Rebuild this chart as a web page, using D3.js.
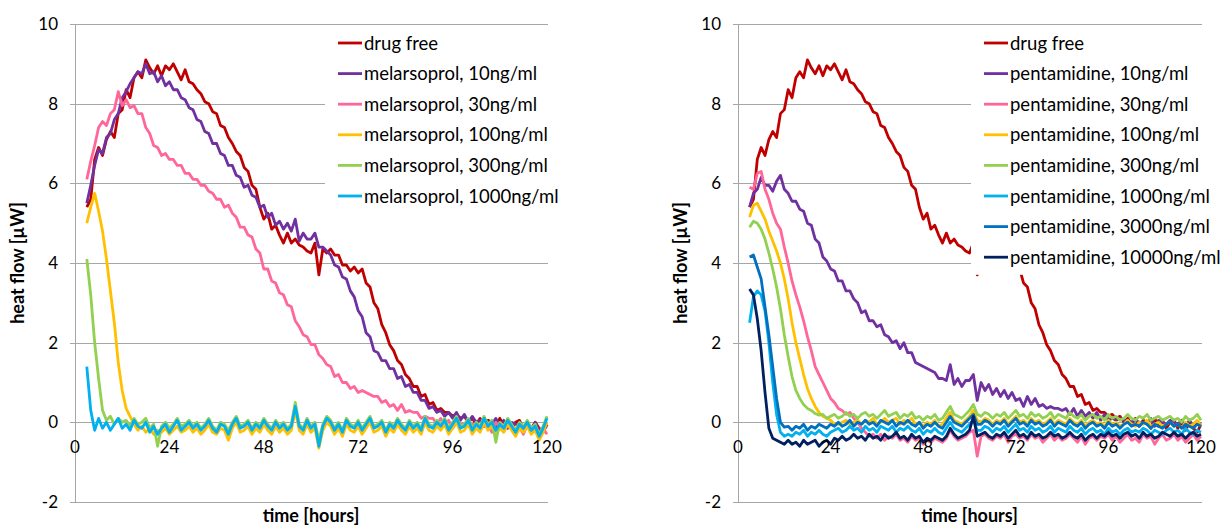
<!DOCTYPE html>
<html>
<head>
<meta charset="utf-8">
<script src="https://cdn.jsdelivr.net/npm/d3@7"></script>
<style>
  body { margin: 0; background: #fff; }
  text { font-family: Lato, "Open Sans", sans-serif; fill: #000; }
</style>
</head>
<body>
<div id="chart"></div>
<script>
// sampling grid: one reading per hour, from hour 3 to hour 120
const hours = d3.range(3, 121);

const xTicks = [0, 24, 48, 72, 96, 120];
const yTicks = [-2, 0, 2, 4, 6, 8, 10];

// drug free control (same curve in both panels)
const drugFree = [
  5.4, 5.6, 6.6, 6.9, 6.7, 7.1, 7.3, 7.15, 7.75, 7.85,
  8.35, 8.15, 8.65, 8.8, 8.65, 9.1, 8.9, 8.75, 8.95, 8.7,
  8.95, 8.85, 9.0, 8.8, 8.6, 8.85, 8.55, 8.5, 8.35, 8.25,
  8.05, 8.0, 7.8, 7.75, 7.45, 7.4, 7.15, 7.0, 6.8, 6.7,
  6.4, 6.3, 5.95, 5.85, 5.4, 5.1, 5.25, 4.85, 4.95, 4.7,
  4.5, 4.75, 4.5, 4.6, 4.45, 4.4, 4.3, 4.25, 4.5, 3.7,
  4.35, 4.25, 4.35, 4.2, 4.2, 3.95, 3.95, 3.8, 3.9, 3.75,
  3.85, 3.5, 3.4, 3.0, 2.85, 2.45, 2.25, 1.95, 1.8, 1.55,
  1.45, 1.2, 1.1, 0.9, 0.9, 0.65, 0.7, 0.45, 0.5, 0.3,
  0.35, 0.25, 0.25, 0.15, 0.2, 0.1, 0.15, 0.0, 0.1, -0.05,
  0.1, -0.1, 0.05, 0.0, -0.15, 0.1, -0.1, 0.05, -0.15, 0.0,
  0.05, -0.15, 0.0, -0.2, 0.0, -0.15, -0.25, -0.05
];

// melarsoprol
const mel10 = [
  5.5, 5.95, 6.45, 6.85, 6.75, 7.15, 7.25, 7.6, 7.75, 8.15,
  8.3, 8.5, 8.65, 8.8, 8.75, 9.0, 8.75, 8.8, 8.55, 8.7,
  8.45, 8.55, 8.35, 8.35, 8.15, 8.1, 7.9, 7.85, 7.6, 7.55,
  7.3, 7.25, 7.0, 7.0, 6.75, 6.7, 6.45, 6.45, 6.2, 6.15,
  5.9, 5.95, 5.7, 5.65, 5.4, 5.45, 5.15, 5.25, 4.95, 5.05,
  4.85, 5.0, 4.8, 5.1, 4.55, 4.75, 4.6, 4.6, 4.75, 4.4,
  4.4, 4.3, 4.2, 3.95, 3.9, 3.65, 3.6, 3.3, 3.15, 2.8,
  2.65, 2.25, 2.15, 1.8, 1.75, 1.55, 1.55, 1.35, 1.35, 1.1,
  1.15, 0.9, 0.95, 0.75, 0.75, 0.55, 0.55, 0.35, 0.4, 0.25,
  0.3, 0.15, 0.25, 0.1, 0.25, 0.05, 0.2, 0.0, 0.15, 0.0,
  0.05, 0.0, 0.0, -0.05, 0.1, -0.1, 0.05, -0.15, 0.0, -0.05,
  -0.05, -0.1, -0.1, -0.15, 0.0, -0.2, -0.15, -0.1
];
const mel30 = [
  6.1, 6.55, 6.95, 7.4, 7.55, 7.45, 7.75, 7.85, 8.3, 7.95,
  8.1, 7.9, 7.95, 7.75, 7.75, 7.4, 7.25, 6.95, 6.9, 6.7,
  6.75, 6.6, 6.6, 6.45, 6.45, 6.25, 6.25, 6.1, 6.1, 5.95,
  5.95, 5.8, 5.75, 5.6, 5.6, 5.4, 5.45, 5.25, 5.15, 4.9,
  4.9, 4.7, 4.65, 4.35, 4.25, 3.85, 3.85, 3.55, 3.5, 3.25,
  3.2, 2.95, 2.9, 2.55, 2.4, 2.2, 2.15, 1.95, 1.95, 1.7,
  1.6, 1.45, 1.4, 1.15, 1.2, 1.0, 1.0, 0.85, 0.9, 0.75,
  0.8, 0.75, 0.7, 0.65, 0.65, 0.5, 0.55, 0.4, 0.45, 0.3,
  0.45, 0.25, 0.3, 0.25, 0.25, 0.1, 0.15, 0.1, 0.1, -0.05,
  0.1, -0.1, 0.05, -0.15, 0.0, -0.05, -0.05, -0.1, -0.05, -0.05,
  -0.1, -0.1, -0.05, -0.25, 0.0, -0.15, -0.1, -0.1, -0.15, -0.15,
  -0.1, -0.3, -0.05, -0.25, -0.1, -0.35, -0.15, -0.3
];
const mel100 = [
  5.0, 5.4, 5.75, 5.3, 4.8, 4.1, 3.3, 2.5, 1.5, 0.8,
  0.35, 0.15, -0.05, -0.2, -0.1, -0.25, -0.15, -0.3, -0.2, -0.25,
  -0.15, -0.3, -0.2, -0.1, -0.25, -0.2, -0.1, -0.25, -0.15, -0.3,
  -0.2, -0.05, -0.25, -0.3, -0.15, -0.2, -0.45, -0.15, 0.0, -0.25,
  -0.2, -0.1, -0.3, -0.15, -0.25, -0.05, -0.2, -0.3, -0.1, -0.25,
  -0.15, -0.3, -0.2, 0.3, -0.2, -0.3, -0.05, -0.25, -0.15, -0.65,
  -0.2, 0.0, -0.1, -0.3, -0.15, -0.35, -0.05, -0.2, -0.25, -0.1,
  -0.3, -0.15, 0.0, -0.25, -0.2, -0.1, -0.35, -0.15, -0.25, -0.05,
  -0.2, -0.3, -0.1, -0.25, -0.15, -0.3, 0.0, -0.2, -0.25, -0.1,
  -0.2, -0.05, -0.3, -0.15, 0.0, -0.25, -0.2, -0.05, -0.3, -0.15,
  -0.25, 0.0, -0.2, -0.1, -0.3, -0.15, -0.25, -0.05, -0.2, -0.35,
  -0.15, -0.25, -0.1, -0.3, -0.2, -0.45, -0.25, 0.0
];
const mel300 = [
  4.1, 3.2, 2.0, 1.1, 0.3, 0.05, 0.15, -0.05, 0.1, 0.0,
  0.05, -0.1, 0.1, -0.05, 0.0, 0.1, -0.15, -0.05, -0.6, -0.1,
  0.0, -0.15, -0.05, 0.1, -0.1, -0.05, 0.05, -0.1, 0.0, -0.15,
  -0.05, 0.1, -0.1, -0.2, 0.0, -0.05, -0.2, 0.0, 0.15, -0.1,
  -0.05, 0.05, -0.15, 0.0, -0.1, 0.1, -0.05, -0.15, 0.05, -0.1,
  0.0, -0.15, -0.05, 0.5, -0.05, -0.15, 0.1, -0.1, 0.0, -0.45,
  -0.05, 0.15, 0.05, -0.15, 0.0, -0.2, 0.1, -0.05, -0.1, 0.05,
  -0.15, 0.0, 0.15, -0.1, -0.05, 0.05, -0.2, 0.0, -0.1, 0.1,
  -0.05, -0.15, 0.05, -0.1, 0.0, -0.15, 0.15, -0.05, -0.1, 0.05,
  -0.05, 0.1, -0.15, 0.0, 0.15, -0.1, -0.05, 0.1, -0.15, 0.0,
  -0.1, 0.15, -0.05, 0.05, -0.5, 0.0, -0.1, 0.1, -0.05, -0.2,
  0.0, -0.1, 0.05, -0.15, -0.05, -0.3, -0.1, 0.15
];
const mel1000 = [
  1.4, 0.3, -0.2, 0.1, -0.15, 0.0, -0.2, -0.05, 0.1, -0.15,
  -0.05, -0.2, 0.05, -0.1, -0.15, 0.0, -0.25, -0.1, -0.3, -0.15,
  -0.05, -0.25, -0.1, 0.05, -0.2, -0.1, 0.0, -0.15, -0.05, -0.2,
  -0.1, 0.05, -0.15, -0.25, -0.05, -0.1, -0.3, -0.05, 0.1, -0.15,
  -0.1, 0.0, -0.2, -0.05, -0.15, 0.05, -0.1, -0.2, 0.0, -0.15,
  -0.05, -0.2, -0.1, 0.4, -0.1, -0.2, 0.05, -0.15, -0.05, -0.6,
  -0.1, 0.1, 0.0, -0.2, -0.05, -0.25, 0.05, -0.1, -0.15, 0.0,
  -0.2, -0.05, 0.1, -0.15, -0.1, 0.0, -0.25, -0.05, -0.15, 0.05,
  -0.1, -0.2, 0.0, -0.15, -0.05, -0.2, 0.1, -0.1, -0.15, 0.0,
  -0.1, 0.05, -0.2, -0.05, 0.1, -0.15, -0.1, 0.05, -0.2, -0.05,
  -0.15, 0.1, -0.1, 0.0, -0.2, -0.05, -0.15, 0.05, -0.1, -0.25,
  -0.05, -0.15, 0.0, -0.2, -0.1, -0.35, -0.15, 0.1
];

// pentamidine
const pent10 = [
  5.4, 5.75, 5.85, 6.15, 5.95, 5.95, 5.8, 6.05, 6.2, 5.85,
  5.75, 5.55, 5.55, 5.35, 5.3, 5.0, 4.95, 4.6, 4.5, 4.15,
  4.05, 3.85, 3.8, 3.55, 3.55, 3.3, 3.3, 3.1, 3.0, 2.75,
  2.8, 2.55, 2.55, 2.4, 2.45, 2.2, 2.15, 2.0, 2.05, 1.85,
  2.0, 1.75, 1.75, 1.5, 1.45, 1.4, 1.35, 1.3, 1.25, 1.1,
  1.1, 1.05, 1.45, 0.95, 1.1, 0.9, 1.05, 1.05, 1.2, 0.55,
  1.0, 0.8, 0.95, 0.7, 0.85, 0.65, 0.8, 0.6, 0.75, 0.55,
  0.6, 0.4, 0.65, 0.45, 0.6, 0.4, 0.45, 0.35, 0.4, 0.35,
  0.35, 0.3, 0.35, 0.2, 0.35, 0.15, 0.3, 0.15, 0.25, 0.1,
  0.25, 0.05, 0.2, 0.05, 0.1, 0.05, 0.1, 0.05, 0.05, 0.0,
  0.05, 0.0, 0.0, -0.05, 0.1, -0.1, 0.05, 0.0, -0.05, 0.05,
  0.0, -0.05, 0.05, -0.1, 0.05, -0.1, 0.0, -0.05
];
const pent30 = [
  5.9, 5.85, 6.25, 6.3, 5.85, 5.6, 5.25, 5.0, 4.85, 4.4,
  4.0, 3.55, 3.2, 2.9, 2.55, 2.15, 1.8, 1.4, 1.2, 1.0,
  0.8, 0.6, 0.5, 0.35, 0.3, 0.2, 0.25, 0.1, 0.0, -0.15,
  -0.25, -0.35, -0.3, -0.4, -0.3, -0.45, -0.35, -0.4, -0.3, -0.45,
  -0.4, -0.5, -0.35, -0.45, -0.4, -0.55, -0.45, -0.5, -0.4, -0.45,
  -0.5, -0.4, -0.2, -0.35, -0.45, -0.4, -0.35, -0.25, -0.2, -0.85,
  -0.35, -0.3, -0.4, -0.45, -0.35, -0.4, -0.3, -0.5, -0.35, -0.3,
  -0.4, -0.35, -0.45, -0.3, -0.4, -0.35, -0.5, -0.4, -0.3, -0.45,
  -0.35, -0.45, -0.4, -0.3, -0.4, -0.5, -0.35, -0.55, -0.4, -0.35,
  -0.45, -0.35, -0.4, -0.3, -0.45, -0.35, -0.5, -0.4, -0.3, -0.45,
  -0.4, -0.5, -0.3, -0.4, -0.35, -0.55, -0.4, -0.3, -0.45, -0.4,
  -0.3, -0.45, -0.35, -0.5, -0.4, -0.3, -0.45, -0.35
];
const pent100 = [
  5.15, 5.45, 5.5, 5.3, 5.1, 4.8, 4.55, 4.3, 4.0, 3.6,
  3.1, 2.5, 2.0, 1.6, 1.2, 0.85, 0.6, 0.4, 0.25, 0.15,
  0.1, 0.05, -0.05, -0.05, 0.0, 0.05, -0.05, 0.0, 0.05, -0.05,
  0.05, 0.0, 0.1, -0.05, 0.0, 0.1, 0.0, 0.05, 0.1, -0.05,
  0.05, 0.0, 0.1, -0.05, 0.0, -0.1, 0.0, -0.05, 0.05, -0.1,
  -0.05, 0.1, 0.25, 0.05, 0.0, -0.05, 0.05, 0.15, 0.3, 0.05,
  0.0, 0.1, 0.05, -0.05, 0.05, 0.0, 0.1, -0.05, 0.05, 0.15,
  0.0, 0.05, -0.05, 0.1, 0.0, 0.05, -0.05, 0.0, 0.1, -0.05,
  0.05, 0.0, -0.05, 0.1, 0.0, -0.05, 0.05, -0.1, 0.0, 0.05,
  -0.05, 0.0, -0.1, 0.05, -0.05, 0.0, -0.1, -0.05, 0.05, -0.05,
  -0.1, 0.0, -0.05, 0.05, -0.1, -0.05, 0.0, -0.1, -0.05, 0.0,
  -0.1, -0.05, -0.15, 0.0, -0.1, -0.05, 0.05, -0.1
];
const pent300 = [
  4.9, 5.05, 5.0, 4.85, 4.6, 4.25, 3.85, 3.4, 2.85, 2.2,
  1.65, 1.15, 0.8, 0.6, 0.45, 0.35, 0.3, 0.22, 0.18, 0.2,
  0.1, 0.15, 0.2, 0.1, 0.15, 0.25, 0.15, 0.2, 0.1, 0.2,
  0.25, 0.15, 0.2, 0.1, 0.2, 0.3, 0.15, 0.2, 0.25, 0.1,
  0.2, 0.15, 0.25, 0.1, 0.15, 0.05, 0.15, 0.1, 0.2, 0.05,
  0.1, 0.25, 0.4, 0.2, 0.15, 0.1, 0.2, 0.3, 0.45, 0.2,
  0.15, 0.25, 0.2, 0.1, 0.2, 0.15, 0.25, 0.1, 0.2, 0.3,
  0.15, 0.2, 0.1, 0.25, 0.15, 0.2, 0.1, 0.15, 0.25, 0.1,
  0.2, 0.15, 0.1, 0.25, 0.15, 0.1, 0.2, 0.05, 0.15, 0.2,
  0.1, 0.15, 0.05, 0.2, 0.1, 0.15, 0.05, 0.1, 0.2, 0.1,
  0.05, 0.15, 0.1, 0.2, 0.05, 0.1, 0.15, 0.05, 0.1, 0.15,
  0.05, 0.1, 0.0, 0.15, 0.05, 0.1, 0.2, 0.05
];
const pent1000 = [
  2.5, 3.15, 3.3, 3.2, 2.8, 2.0, 1.0, 0.2, -0.25, -0.35,
  -0.3, -0.35, -0.25, -0.3, -0.2, -0.35, -0.25, -0.3, -0.2, -0.3,
  -0.35, -0.25, -0.2, -0.15, -0.25, -0.2, -0.1, -0.2, -0.15, -0.25,
  -0.1, -0.2, -0.15, -0.25, -0.1, -0.15, -0.2, -0.1, -0.25, -0.15,
  -0.2, -0.1, -0.2, -0.25, -0.15, -0.3, -0.2, -0.25, -0.15, -0.25,
  -0.3, -0.15, 0.0, -0.15, -0.2, -0.25, -0.15, -0.05, 0.05, -0.2,
  -0.2, -0.1, -0.15, -0.25, -0.15, -0.2, -0.1, -0.25, -0.15, -0.05,
  -0.2, -0.15, -0.25, -0.1, -0.2, -0.15, -0.25, -0.2, -0.1, -0.25,
  -0.15, -0.2, -0.25, -0.1, -0.2, -0.25, -0.15, -0.3, -0.2, -0.15,
  -0.25, -0.2, -0.3, -0.15, -0.25, -0.2, -0.3, -0.2, -0.15, -0.25,
  -0.2, -0.25, -0.15, -0.2, -0.3, -0.2, -0.25, -0.3, -0.2, -0.15,
  -0.25, -0.2, -0.3, -0.15, -0.25, -0.3, -0.2, -0.25
];
const pent3000 = [
  4.15, 4.2, 3.9, 3.6, 2.9, 2.2, 1.4, 0.6, 0.0, -0.12,
  -0.1, -0.2, -0.1, -0.15, -0.05, -0.2, -0.1, -0.15, -0.05, -0.1,
  -0.15, -0.05, -0.1, 0.0, -0.1, -0.05, 0.05, -0.1, 0.0, -0.05,
  0.05, -0.05, 0.0, -0.1, 0.05, 0.0, -0.05, 0.05, -0.1, 0.0,
  -0.05, 0.05, -0.05, -0.1, 0.0, -0.15, -0.05, -0.1, 0.0, -0.1,
  -0.15, 0.0, 0.15, 0.0, -0.05, -0.1, 0.0, 0.1, 0.2, -0.05,
  -0.05, 0.05, 0.0, -0.1, 0.0, -0.05, 0.05, -0.1, 0.0, 0.1,
  -0.05, 0.0, -0.1, 0.05, -0.05, 0.0, -0.1, -0.05, 0.05, -0.1,
  0.0, -0.05, -0.1, 0.05, -0.05, -0.1, 0.0, -0.15, -0.05, 0.0,
  -0.1, -0.05, -0.15, 0.0, -0.1, -0.05, -0.15, -0.05, 0.0, -0.1,
  -0.05, -0.1, 0.0, -0.05, -0.15, -0.05, -0.1, -0.15, -0.05, 0.0,
  -0.1, -0.05, -0.15, -0.05, -0.1, -0.15, -0.05, -0.1
];
const pent10000 = [
  3.35, 3.2, 2.6, 1.8, 0.75, -0.15, -0.4, -0.45, -0.5, -0.55,
  -0.45, -0.55, -0.5, -0.6, -0.45, -0.55, -0.5, -0.45, -0.6, -0.5,
  -0.45, -0.55, -0.4, -0.45, -0.35, -0.45, -0.4, -0.3, -0.4, -0.35,
  -0.45, -0.3, -0.4, -0.35, -0.45, -0.3, -0.4, -0.35, -0.25, -0.4,
  -0.35, -0.45, -0.3, -0.4, -0.35, -0.5, -0.4, -0.45, -0.35, -0.4,
  -0.45, -0.35, -0.15, -0.3, -0.4, -0.35, -0.3, -0.2, 0.15, -0.35,
  -0.3, -0.25, -0.35, -0.4, -0.3, -0.35, -0.25, -0.4, -0.3, -0.2,
  -0.35, -0.3, -0.4, -0.25, -0.35, -0.3, -0.4, -0.35, -0.25, -0.35,
  -0.3, -0.4, -0.35, -0.25, -0.35, -0.4, -0.3, -0.45, -0.35, -0.3,
  -0.4, -0.3, -0.35, -0.25, -0.35, -0.3, -0.4, -0.3, -0.25, -0.35,
  -0.3, -0.4, -0.25, -0.35, -0.3, -0.4, -0.35, -0.25, -0.3, -0.35,
  -0.25, -0.35, -0.3, -0.4, -0.3, -0.25, -0.35, -0.3
];

const melLabels = ["drug free", "melarsoprol, 10ng/ml", "melarsoprol, 30ng/ml",
  "melarsoprol, 100ng/ml", "melarsoprol, 300ng/ml", "melarsoprol, 1000ng/ml"];
const pentLabels = ["drug free", "pentamidine, 10ng/ml", "pentamidine, 30ng/ml",
  "pentamidine, 100ng/ml", "pentamidine, 300ng/ml", "pentamidine, 1000ng/ml",
  "pentamidine, 3000ng/ml", "pentamidine, 10000ng/ml"];

const colors = ["#C00000", "#7030A0", "#FF6699", "#FFC000", "#92D050", "#00B0F0", "#0070C0", "#002060"];

const width = 1223, height = 527;
const svg = d3.select("#chart").append("svg")
  .attr("width", width)
  .attr("height", height);

const y = d3.scaleLinear().domain([-2, 10]).range([502, 24]);

function drawPanel(opts) {
  const x = d3.scaleLinear().domain([0, 120]).range([opts.x0, opts.x1]);
  const g = svg.append("g");

  // horizontal grid lines (include a small stub left of the axis)
  g.selectAll(".grid")
    .data(yTicks)
    .join("line")
    .attr("x1", opts.x0 - 5)
    .attr("x2", opts.x1 + 1)
    .attr("y1", d => Math.round(y(d)) + 0.5)
    .attr("y2", d => Math.round(y(d)) + 0.5)
    .attr("stroke", "#a6a6a6")
    .attr("stroke-width", 1);

  // y axis line
  g.append("line")
    .attr("x1", Math.round(opts.x0) + 0.5)
    .attr("x2", Math.round(opts.x0) + 0.5)
    .attr("y1", y(10))
    .attr("y2", y(-2))
    .attr("stroke", "#a6a6a6");

  const line = d3.line()
    .x((d, i) => x(hours[i]))
    .y(d => y(d));

  g.selectAll(".series")
    .data(opts.series)
    .join("path")
    .attr("fill", "none")
    .attr("stroke", (d, i) => colors[i])
    .attr("stroke-width", 2.8)
    .attr("stroke-linejoin", "round")
    .attr("d", d => line(d));

  // legend with white background
  const leg = g.append("g");
  leg.append("rect")
    .attr("x", opts.legX - 13)
    .attr("y", 28)
    .attr("width", opts.legW)
    .attr("height", opts.labels.length * 30.6 + 2)
    .attr("fill", "#fff");
  const rows = leg.selectAll(".row")
    .data(opts.labels)
    .join("g")
    .attr("transform", (d, i) => `translate(${opts.legX},${43 + i * 30.6})`);
  rows.append("line")
    .attr("x1", 0).attr("x2", 24)
    .attr("stroke", (d, i) => colors[i])
    .attr("stroke-width", 2.8);
  rows.append("text")
    .attr("x", 26)
    .attr("dy", "0.36em")
    .style("font-size", "18.5px")
    .text(d => d);

  // tick labels
  g.selectAll(".ytick")
    .data(yTicks)
    .join("text")
    .attr("x", opts.x0 - 17)
    .attr("y", d => y(d))
    .attr("dy", "0.36em")
    .attr("text-anchor", "end")
    .style("font-size", "17px")
    .text(d => d);

  g.selectAll(".xtick")
    .data(xTicks)
    .join("text")
    .attr("x", d => x(d))
    .attr("y", y(0) + 25)
    .attr("dy", "0.36em")
    .attr("text-anchor", "middle")
    .style("font-size", "17px")
    .text(d => d);

  // axis titles
  g.append("text")
    .attr("transform", `translate(${opts.x0 - 57},${(y(10) + y(-2)) / 2}) rotate(-90)`)
    .attr("text-anchor", "middle")
    .attr("dy", "0.36em")
    .style("font-size", "18px")
    .style("font-weight", "bold")
    .text("heat flow [µW]");

  g.append("text")
    .attr("x", (opts.x0 + opts.x1) / 2)
    .attr("y", 516)
    .attr("dy", "0.36em")
    .attr("text-anchor", "middle")
    .style("font-size", "18px")
    .style("font-weight", "bold")
    .text("time [hours]");
}

drawPanel({
  x0: 75, x1: 547,
  series: [drugFree, mel10, mel30, mel100, mel300, mel1000],
  labels: melLabels,
  legX: 338, legW: 224
});

drawPanel({
  x0: 738, x1: 1201,
  series: [drugFree, pent10, pent30, pent100, pent300, pent1000, pent3000, pent10000],
  labels: pentLabels,
  legX: 984, legW: 239
});
</script>
</body>
</html>
